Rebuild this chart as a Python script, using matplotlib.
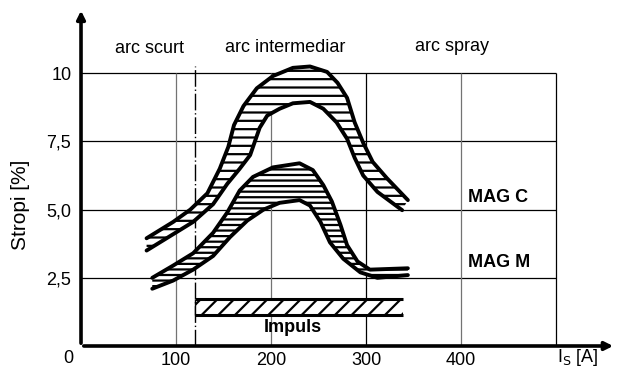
import matplotlib.pyplot as plt
from matplotlib.patches import Polygon
import numpy as np

plt.rcParams['font.family'] = ['Liberation Sans', 'DejaVu Sans']
plt.rcParams['hatch.linewidth'] = 1.6

# MAG C band (outer / inner contour)
magc_out_x = [69, 97, 115, 133, 146, 155, 161, 171, 185, 202, 223, 241, 259, 270, 280, 288, 297, 307, 322, 344]
magc_out_y = [3.95, 4.55, 5.0, 5.6, 6.5, 7.3, 8.1, 8.8, 9.45, 9.9, 10.2, 10.25, 10.05, 9.65, 9.1, 8.2, 7.45, 6.75, 6.15, 5.35]
magc_in_x = [69, 97, 118, 139, 154, 167, 178, 184, 188, 196, 209, 223, 241, 255, 269, 280, 288, 297, 312, 338]
magc_in_y = [3.5, 4.1, 4.55, 5.2, 5.95, 6.5, 7.0, 7.6, 8.0, 8.45, 8.7, 8.9, 8.95, 8.7, 8.2, 7.6, 6.9, 6.25, 5.65, 4.98]

# MAG M band
magm_out_x = [75, 97, 118, 139, 154, 167, 181, 202, 230, 244, 255, 264, 273, 280, 291, 304, 344]
magm_out_y = [2.5, 2.95, 3.4, 4.15, 4.9, 5.7, 6.2, 6.55, 6.7, 6.45, 5.9, 5.3, 4.45, 3.7, 3.1, 2.8, 2.85]
magm_in_x = [75, 97, 118, 139, 157, 175, 192, 209, 230, 241, 252, 262, 276, 294, 312, 344]
magm_in_y = [2.1, 2.4, 2.8, 3.3, 4.0, 4.6, 5.0, 5.25, 5.35, 5.15, 4.55, 3.8, 3.2, 2.7, 2.5, 2.6]

# Impuls bar
impuls_x = [120, 339]
impuls_y = [1.13, 1.72]

grid_y = [2.5, 5.0, 7.5, 10]
grid_x = [100, 200, 300, 400, 500]
xtick_vals = [100, 200, 300, 400]
ytick_labels = ['2,5', '5,0', '7,5', '10']

fs = 13

fig = plt.figure(figsize=(6.17, 3.72), dpi=100)
ax = fig.add_axes([0.1313, 0.0699, 0.867, 0.909])
ax.set_xlim(0, 563)
ax.set_ylim(0, 12.4)
for s in ax.spines.values():
    s.set_visible(False)

# grid
ax.hlines(grid_y, 0, 500, color='black', lw=0.9)
for gx in grid_x:
    c = 'black' if gx in (300, 500) else '0.45'
    ax.vlines(gx, 0, 10, color=c, lw=0.9)
ax.vlines(120, 0, 10.25, color='black', lw=1.0, linestyles=(0, (12, 2, 1, 2)))

# axes arrows
ax.annotate('', xy=(563, 0), xytext=(0, 0),
            arrowprops=dict(arrowstyle='-|>', lw=2.6, color='black', mutation_scale=12),
            annotation_clip=False)
ax.annotate('', xy=(0, 12.4), xytext=(0, 0),
            arrowprops=dict(arrowstyle='-|>', lw=2.6, color='black', mutation_scale=12),
            annotation_clip=False)

# bands
def band(xo, yo, xi, yi, hatch):
    pts = np.column_stack([np.r_[xo, xi[::-1]], np.r_[yo, yi[::-1]]])
    ax.add_patch(Polygon(pts, closed=True, facecolor='white', edgecolor='black',
                         hatch=hatch, lw=0, zorder=3))
    ax.plot(xo, yo, color='black', lw=2.8, solid_capstyle='round', solid_joinstyle='round', zorder=4)
    ax.plot(xi, yi, color='black', lw=2.8, solid_capstyle='round', solid_joinstyle='round', zorder=4)

band(magc_out_x, magc_out_y, magc_in_x, magc_in_y, '--')
band(magm_out_x, magm_out_y, magm_in_x, magm_in_y, '---')

ax.fill_between(impuls_x, impuls_y[0], impuls_y[1], facecolor='white',
                edgecolor='black', hatch='//', lw=0, zorder=3)
ax.hlines(impuls_y, impuls_x[0], impuls_x[1], color='black', lw=2.2, zorder=4)
ax.vlines(impuls_x[0], impuls_y[0], impuls_y[1], color='black', lw=1.0, zorder=4)

# ticks
ax.set_xticks(xtick_vals)
ax.set_xticklabels([str(v) for v in xtick_vals], fontsize=fs)
ax.set_yticks(grid_y)
ax.set_yticklabels(ytick_labels, fontsize=fs)
ax.tick_params(axis='x', length=0, pad=4)
ax.tick_params(axis='y', length=0, pad=7)

ax.text(-13.7, -0.45, '0', fontsize=fs, ha='center', va='center')
ax.text(523, -0.42, r'I$_\mathrm{S}$ [A]', fontsize=fs, ha='center', va='center')
ax.text(-64, 5.16, 'Stropi [%]', fontsize=15, rotation=90, ha='center', va='center')

ax.text(72, 10.9, 'arc scurt', fontsize=fs, ha='center', va='center')
ax.text(215, 10.95, 'arc intermediar', fontsize=fs, ha='center', va='center')
ax.text(390, 11.0, 'arc spray', fontsize=fs, ha='center', va='center')
ax.text(407, 5.45, 'MAG C', fontsize=fs, fontweight='bold', ha='left', va='center')
ax.text(407, 3.08, 'MAG M', fontsize=fs, fontweight='bold', ha='left', va='center')
ax.text(223, 0.66, 'Impuls', fontsize=fs, fontweight='bold', ha='center', va='center')

fig.savefig('out.png', dpi=100)
